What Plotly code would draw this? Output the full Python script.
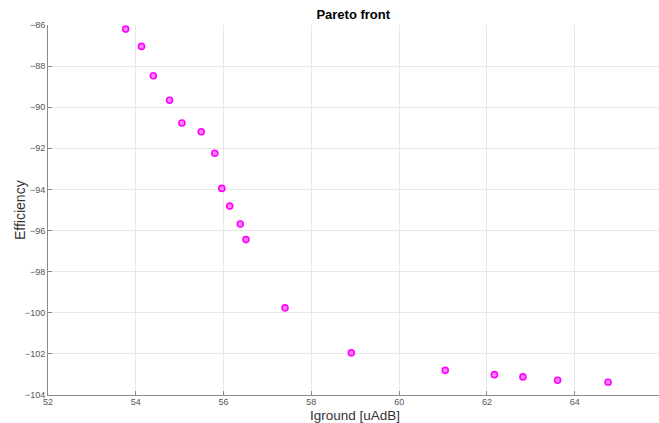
import plotly.graph_objects as go

iground = [53.77, 54.13, 54.40, 54.77, 55.05, 55.49, 55.80, 55.96, 56.14, 56.38,
           56.51, 57.40, 58.91, 61.05, 62.17, 62.82, 63.61, 64.76]
efficiency = [-86.20, -87.04, -88.47, -89.66, -90.77, -91.19, -92.24, -93.95, -94.81, -95.68,
              -96.44, -99.76, -101.95, -102.80, -103.01, -103.12, -103.28, -103.38]
x_ticks = [52, 54, 56, 58, 60, 62, 64]
y_ticks = [-104, -102, -100, -98, -96, -94, -92, -90, -88, -86]

fig = go.Figure()
fig.add_trace(go.Scatter(
    x=iground, y=efficiency, mode="markers",
    marker=dict(symbol="circle", size=6, color="#ff88ff",
                line=dict(color="#ff00ff", width=1.6)),
    showlegend=False,
))

axis_common = dict(
    showgrid=True, gridcolor="#e8e8e8", gridwidth=1,
    showline=True, linecolor="#8a8a8a", linewidth=1,
    ticks="inside", ticklen=4, tickcolor="#8a8a8a",
    tickfont=dict(family="Liberation Sans, Arial", size=9, color="#555555"),
    zeroline=False, automargin=False,
)

fig.update_layout(
    width=659, height=423,
    margin=dict(l=48, r=0, t=25, b=28),
    paper_bgcolor="white", plot_bgcolor="white",
    title=dict(text="<b>Pareto front</b>", x=0.536, xanchor="center", y=0.967, yanchor="middle",
               font=dict(family="Liberation Sans, Arial", size=13, color="black")),
    xaxis=dict(range=[52, 65.92], tickvals=x_ticks, ticklabelstandoff=-2, **axis_common),
    yaxis=dict(range=[-104, -86], tickvals=y_ticks, **axis_common),
    annotations=[
        dict(text="Efficiency", xref="paper", yref="paper", x=(20 - 48) / 611, y=0.5,
             textangle=-90, showarrow=False, xanchor="center", yanchor="middle",
             font=dict(family="Liberation Sans, Arial", size=14, color="#333333")),
        dict(text="Iground [uAdB]", xref="paper", yref="paper", x=(355 - 48) / 611, y=-28 / 370,
             showarrow=False, xanchor="center", yanchor="bottom", yshift=-2,
             font=dict(family="Liberation Sans, Arial", size=13.5, color="#333333")),
    ],
)

fig.write_html("out.html", config={"displayModeBar": False},
               post_script="document.body.style.margin='0';document.body.style.overflow='hidden';")
